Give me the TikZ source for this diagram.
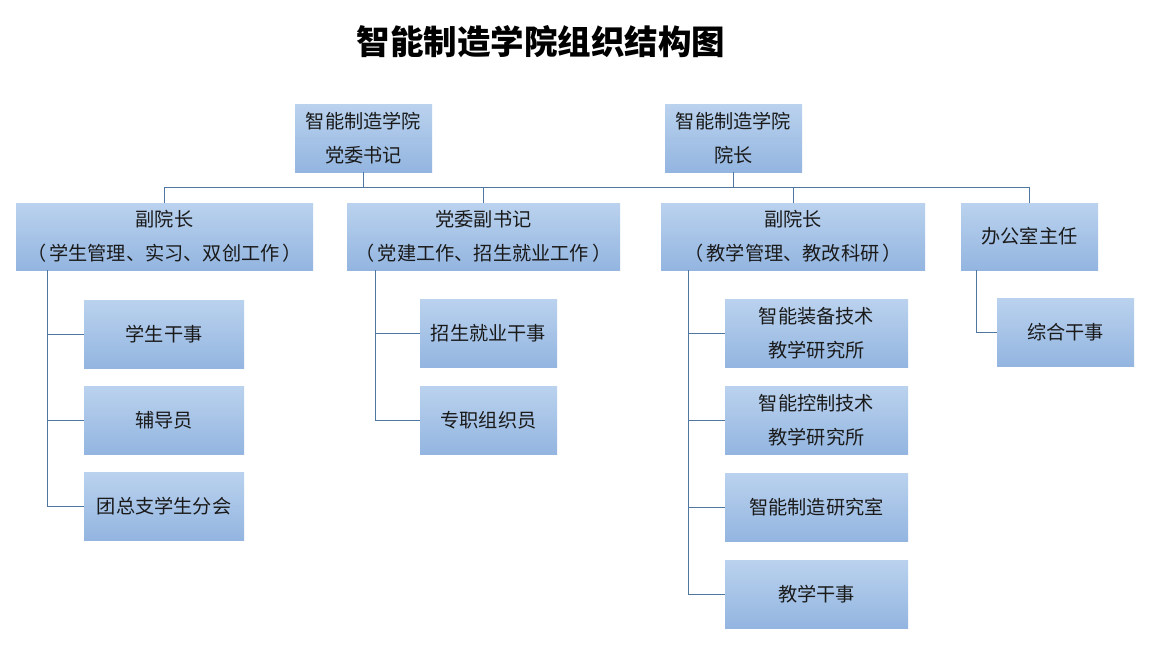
\documentclass[tikz,border=0pt]{standalone}
\usepackage{fontspec}
\setmainfont{Noto Sans CJK SC}
\newfontfamily\cjktitle{Noto Sans CJK SC}
\definecolor{boxtop}{HTML}{BAD2EE}
\definecolor{boxbot}{HTML}{93B5E0}
\definecolor{linec}{HTML}{50779F}
\definecolor{txt}{HTML}{1A1A1A}
\tikzset{
  orgbox/.style={rectangle, draw=none, top color=boxtop, bottom color=boxbot,
    minimum height=68pt, inner sep=0pt, align=center, text=txt,
    font=\fontsize{19.2}{34}\selectfont},
  conn/.style={draw=linec, line width=1pt}
}
\newcommand{\lpar}{（\hspace{3pt}}
\newcommand{\rpar}{\hspace{3pt}）}
\begin{document}
\begin{tikzpicture}[x=1pt,y=-1pt]
\useasboundingbox (0,0) rectangle (1151,645);
\fill[white] (0,0) rectangle (1151,645);
\node[font=\cjktitle\bfseries\fontsize{33.5}{36}\selectfont, text=black] (title) at (541,42) {智能制造学院组织结构图};

% top level
\node[orgbox, minimum width=137pt] (A) at (363.5,138) {智能制造学院\\党委书记};
\node[orgbox, minimum width=137pt] (B) at (733.5,138) {智能制造学院\\院长};

% level 2
\node[orgbox, minimum width=297pt, minimum height=67pt] (C1) at (164.5,236.5) {副院长\\\lpar 学生管理、实习、双创工作\rpar};
\node[orgbox, minimum width=273pt, minimum height=67pt] (C2) at (483.5,236.5) {党委副书记\\\lpar 党建工作、招生就业工作\rpar};
\node[orgbox, minimum width=264pt, minimum height=67pt] (C3) at (793,236.5) {副院长\\\lpar 教学管理、教改科研\rpar};
\node[orgbox, minimum width=137pt, minimum height=67pt] (C4) at (1029.5,236.5) {办公室主任};

% level 3 under C1
\node[orgbox, minimum width=160pt] (D1) at (164,334) {学生干事};
\node[orgbox, minimum width=160pt] (D2) at (164,420) {辅导员};
\node[orgbox, minimum width=160pt] (D3) at (164,506) {团总支学生分会};
% under C2
\node[orgbox, minimum width=137pt] (E1) at (488.5,333) {招生就业干事};
\node[orgbox, minimum width=137pt] (E2) at (488.5,420) {专职组织员};
% under C3
\node[orgbox, minimum width=183pt] (F1) at (816.5,333) {智能装备技术\\教学研究所};
\node[orgbox, minimum width=183pt] (F2) at (816.5,420) {智能控制技术\\教学研究所};
\node[orgbox, minimum width=183pt] (F3) at (816.5,507) {智能制造研究室};
\node[orgbox, minimum width=183pt] (F4) at (816.5,594) {教学干事};
% under C4
\node[orgbox, minimum width=137pt] (G1) at (1065.5,332) {综合干事};

% bus
\coordinate (busL) at (C1.north |- 0,187);
\coordinate (busR) at (C4.north |- 0,187);
\draw[conn] (busL) -- (busR);
\draw[conn] (A.south) -- (A.south |- busL);
\draw[conn] (B.south) -- (B.south |- busL);
\draw[conn] (busL) -- (C1.north);
\draw[conn] (C2.north |- busL) -- (C2.north);
\draw[conn] (C3.north |- busL) -- (C3.north);
\draw[conn] (busR) -- (C4.north);

% trunks
\coordinate (t1) at (47,0);
\draw[conn] (t1 |- C1.south) -- (t1 |- D3.west) -- (D3.west);
\draw[conn] (t1 |- D1.west) -- (D1.west);
\draw[conn] (t1 |- D2.west) -- (D2.west);

\coordinate (t2) at (375,0);
\draw[conn] (t2 |- C2.south) -- (t2 |- E2.west) -- (E2.west);
\draw[conn] (t2 |- E1.west) -- (E1.west);

\coordinate (t3) at (688,0);
\draw[conn] (t3 |- C3.south) -- (t3 |- F4.west) -- (F4.west);
\draw[conn] (t3 |- F1.west) -- (F1.west);
\draw[conn] (t3 |- F2.west) -- (F2.west);
\draw[conn] (t3 |- F3.west) -- (F3.west);

\coordinate (t4) at (976,0);
\draw[conn] (t4 |- C4.south) -- (t4 |- G1.west) -- (G1.west);
\end{tikzpicture}
\end{document}
